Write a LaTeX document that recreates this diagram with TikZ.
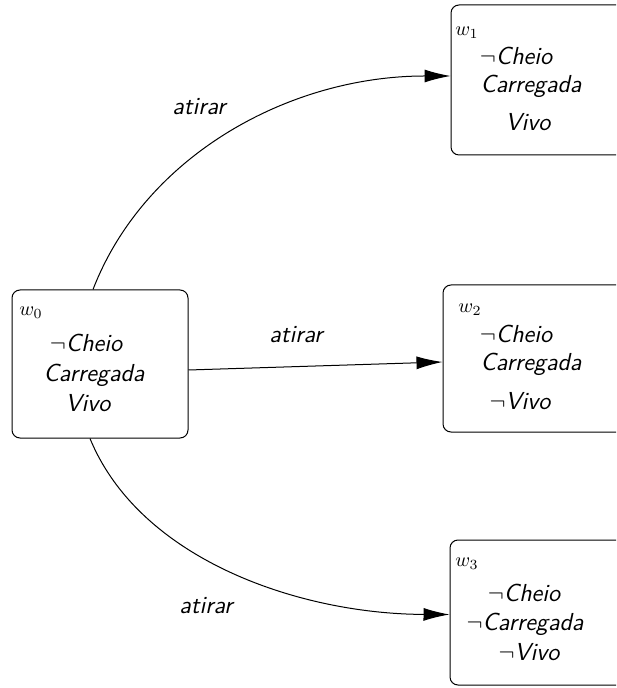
\documentclass[tikz,border=0pt]{standalone}
\usetikzlibrary{arrows.meta,calc}
\begin{document}
\begin{tikzpicture}[x=0.5pt,y=-0.5pt,
  world/.style={draw,line width=0.5pt,rounded corners=4pt,minimum width=88pt,inner sep=0pt},
  fact/.style={anchor=base,inner sep=0pt,font=\fontsize{12.3}{14}\selectfont\sffamily\slshape},
  wlabel/.style={anchor=base west,inner sep=0pt,font=\fontsize{10}{12}\selectfont},
  act/.style={inner sep=0pt,font=\fontsize{12.3}{14}\selectfont\sffamily\slshape},
  trans/.style={line width=0.5pt,-{Latex[length=13pt,width=6.5pt]}}]
\useasboundingbox (0,0) rectangle (616,688);
\begin{scope}
\clip (0,0) rectangle (616,688);
% worlds
\node[world,minimum height=74pt] (w0) at (100,364) {};
\node[world,minimum height=75pt,minimum width=92pt] (w1) at (543,80) {};
\node[world,minimum height=73.5pt,minimum width=92pt] (w2) at (535,358.5) {};
\node[world,minimum height=72.5pt,minimum width=92pt] (w3) at (542,612.5) {};
\end{scope}
% contents of w0
\node[wlabel] (l0) at (19,316) {$w_0$};
\node[fact] (a0) at (86,351) {$\neg$Cheio};
\node[fact] (b0) at (94,381) {Carregada};
\node[fact] (c0) at (88,411) {Vivo};
% contents of w1
\node[wlabel] (l1) at (455,36) {$w_1$};
\node[fact] (a1) at (516,65) {$\neg$Cheio};
\node[fact] (b1) at (531,93) {Carregada};
\node[fact] (c1) at (528,131) {Vivo};
% contents of w2
\node[wlabel] (l2) at (458,313) {$w_2$};
\node[fact] (a2) at (516,343) {$\neg$Cheio};
\node[fact] (b2) at (531,371) {Carregada};
\node[fact] (c2) at (520,409) {$\neg$Vivo};
% contents of w3
\node[wlabel] (l3) at (455,566) {$w_3$};
\node[fact] (a3) at (524,601) {$\neg$Cheio};
\node[fact] (b3) at (525,630) {$\neg$Carregada};
\node[fact] (c3) at (529,660) {$\neg$Vivo};
% transitions
\draw[trans] ($(w0.north)+(-7,0)$) .. controls (145,155) and (290,76) .. ($(w1.west)+(0,-4)$);
\draw[trans] ($(w0.east)+(0,6)$) -- ($(w2.west)+(0,3.5)$);
\draw[trans] ($(w0.south)+(-10,0)$) .. controls (140,560) and (300,614) .. ($(w3.west)+(0,2)$);
% action labels
\node[act] (t1) at (199,107) {atirar};
\node[act] (t2) at (296,335) {atirar};
\node[act] (t3) at (206,606) {atirar};
\end{tikzpicture}
\end{document}
